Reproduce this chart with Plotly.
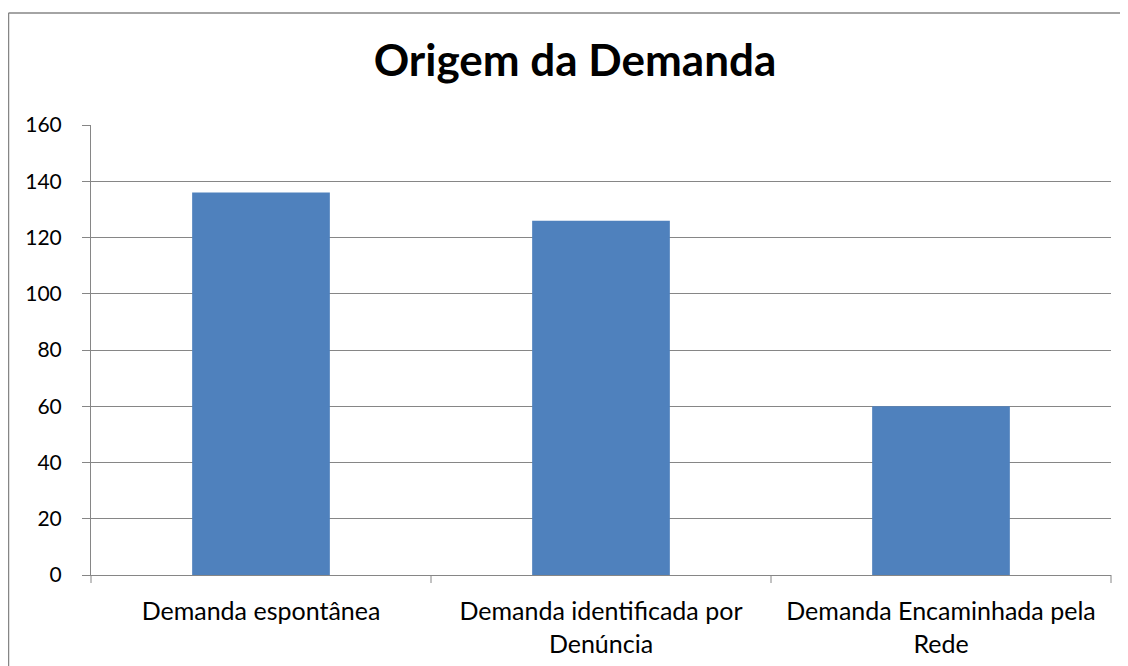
import plotly.graph_objects as go

categories = ["Demanda espontânea", "Demanda identificada por<br>Denúncia", "Demanda Encaminhada pela<br>Rede"]
values = [136, 126, 60]
y_ticks = [0, 20, 40, 60, 80, 100, 120, 140, 160]

FONT = "Lato"
# page has an 8px body margin; size the figure so it fits the window
W, H = 1120, 658
L, R, T, B = 83, 17, 117, 91
pw, ph = W - L - R, H - T - B
GRID = "#868686"

fig = go.Figure(go.Bar(x=categories, y=values, marker=dict(color="#4F81BD", line=dict(width=0)),
                       width=0.405))

fig.update_layout(
    width=W, height=H,
    margin=dict(l=L, r=R, t=T, b=B, autoexpand=False),
    paper_bgcolor="white", plot_bgcolor="white",
    showlegend=False,
    title=dict(text="<b>Origem da Demanda</b>", x=(567 - L) / pw, xref="paper", xanchor="center",
               y=1 - 53 / H, yref="container", yanchor="middle",
               font=dict(family=FONT, size=44, color="black")),
    font=dict(family=FONT, size=20, color="black"),
)

fig.update_xaxes(
    showline=True, linecolor=GRID, linewidth=1,
    ticks="", showgrid=False, ticklabelstandoff=14,
    tickfont=dict(family=FONT, size=25),
)
fig.update_yaxes(
    range=[0, 160], tickvals=y_ticks, showgrid=True, gridcolor=GRID, gridwidth=1,
    showline=True, linecolor=GRID, linewidth=1,
    ticks="outside", ticklen=8, tickcolor=GRID, ticklabelstandoff=16,
    zeroline=False, tickfont=dict(family=FONT, size=21),
)

# category separator ticks on x-axis
for i in range(len(categories) + 1):
    xp = i / len(categories)
    fig.add_shape(type="line", xref="paper", yref="paper", x0=xp, x1=xp, y0=0, y1=-8 / ph,
                  line=dict(color=GRID, width=1))

# outer chart border (left and top visible)
bx = (0.5 - L) / pw
by = 1 + (T - 5) / ph
fig.add_shape(type="line", xref="paper", yref="paper", x0=bx, x1=bx, y0=by, y1=-2,
              line=dict(color=GRID, width=1.5))
fig.add_shape(type="line", xref="paper", yref="paper", x0=bx, x1=2, y0=by, y1=by,
              line=dict(color=GRID, width=1.5))

fig.write_html("out.html")
